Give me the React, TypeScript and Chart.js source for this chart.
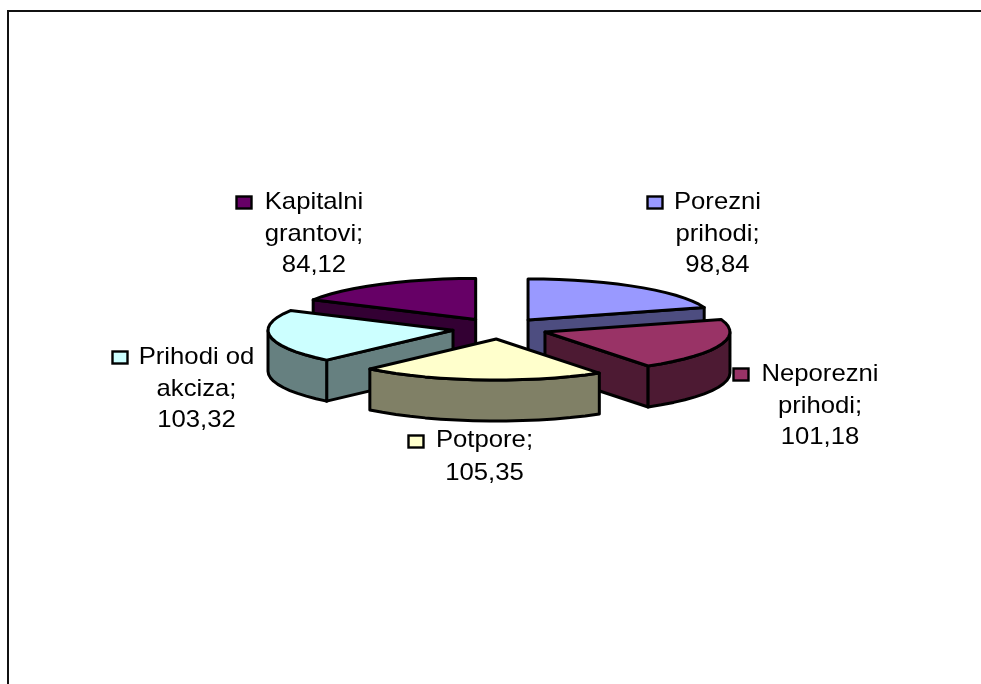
import React, { useEffect, useRef } from "react";
import { Chart, registerables } from "chart.js";

Chart.register(...registerables);

const categories = ["Porezni prihodi", "Neporezni prihodi", "Potpore", "Prihodi od akciza", "Kapitalni grantovi"];
const values = [98.84, 101.18, 105.35, 103.32, 84.12];
const topColors = ["#9999FF", "#993366", "#FFFFCC", "#CCFFFF", "#660066"];
const wallColors = ["#4D4D80", "#4D1A33", "#808066", "#668080", "#330033"];
const labelLines = [
  ["Porezni", "prihodi;"],
  ["Neporezni", "prihodi;"],
  ["Potpore;"],
  ["Prihodi od", "akciza;"],
  ["Kapitalni", "grantovi;"],
];

// Layout of the data labels: text centre, first baseline, line step, key box.
const labelLayout = [
  { cx: 717.5, y: 209, step: 31.5, kx: 647.5, ky: 196.5 },
  { cx: 820, y: 381, step: 31.5, kx: 733.5, ky: 368.5 },
  { cx: 484.5, y: 447, step: 33, kx: 408.5, ky: 435.5 },
  { cx: 196.5, y: 364, step: 31.5, kx: 112.5, ky: 351.5 },
  { cx: 314, y: 209, step: 31.5, kx: 236.5, ky: 196.5 },
];

const RADIUS = 185;
const EXPLODE = 47.6;
const TILT = 41 / 185;
const DEPTH = 41;
const STROKE = 3;
const paintOrder = [4, 0, 3, 1, 2];

const pie3d = {
  id: "pie3d",
  beforeDatasetDraw(chart: any) {
    const { ctx } = chart;
    const arcs = chart.getDatasetMeta(0).data;
    ctx.save();
    ctx.lineJoin = "round";
    ctx.lineWidth = STROKE;
    ctx.strokeStyle = "#000";
    for (const i of paintOrder) {
      const el = arcs[i];
      const s = el.startAngle;
      const e = el.endAngle;
      const mid = (s + e) / 2;
      const off = el.options.offset;
      const ox = el.x + off * Math.cos(mid);
      const oy = el.y + off * Math.sin(mid) * TILT;
      const r = el.outerRadius;
      const pt = (a: number, d = 0): [number, number] => [
        ox + r * Math.cos(a),
        oy + r * Math.sin(a) * TILT + d,
      ];
      const poly = (pts: [number, number][], fill: string) => {
        ctx.beginPath();
        pts.forEach((p, n) => (n ? ctx.lineTo(p[0], p[1]) : ctx.moveTo(p[0], p[1])));
        ctx.closePath();
        ctx.fillStyle = fill;
        ctx.fill();
        ctx.stroke();
      };
      const arcPts = (a0: number, a1: number, d = 0) => {
        const n = Math.max(2, Math.ceil(Math.abs(a1 - a0) / 0.09));
        const out: [number, number][] = [];
        for (let k = 0; k <= n; k++) out.push(pt(a0 + ((a1 - a0) * k) / n, d));
        return out;
      };
      // Radial walls that face the viewer.
      const startFront = Math.cos(s) < -0.001;
      const endFront = Math.cos(e) > 0.001;
      const apex: [number, number] = [ox, oy];
      const apexLow: [number, number] = [ox, oy + DEPTH];
      if (startFront) poly([apex, pt(s), pt(s, DEPTH), apexLow], wallColors[i]);
      if (endFront) poly([apex, pt(e), pt(e, DEPTH), apexLow], wallColors[i]);
      // Outer wall, only where the rim faces the viewer (0..PI on screen).
      const a0 = Math.max(s, 0);
      const a1 = Math.min(e, Math.PI);
      if (a1 > a0) {
        poly([...arcPts(a0, a1), ...arcPts(a1, a0, DEPTH)], wallColors[i]);
      }
      // Top face.
      poly([apex, ...arcPts(s, e)], topColors[i]);
    }
    ctx.restore();
    return false;
  },
  afterDraw(chart: any) {
    const { ctx } = chart;
    ctx.save();
    // Chart frame, cropped on the right and at the bottom.
    ctx.strokeStyle = "#111";
    ctx.lineWidth = 2;
    ctx.beginPath();
    ctx.moveTo(981, 11);
    ctx.lineTo(8, 11);
    ctx.lineTo(8, 684);
    ctx.stroke();
    // Data labels.
    ctx.font = '24px "Liberation Sans", Arial, sans-serif';
    ctx.textAlign = "center";
    ctx.textBaseline = "alphabetic";
    labelLayout.forEach((l, i) => {
      const lines = [...labelLines[i], values[i].toFixed(2).replace(".", ",")];
      lines.forEach((text, n) => {
        ctx.save();
        ctx.translate(l.cx, l.y + n * l.step);
        ctx.scale(1.07, 1);
        ctx.fillStyle = "#000";
        ctx.fillText(text, 0, 0);
        ctx.restore();
      });
      ctx.fillStyle = topColors[i];
      ctx.strokeStyle = "#000";
      ctx.lineWidth = 2.4;
      ctx.fillRect(l.kx, l.ky, 15, 12);
      ctx.strokeRect(l.kx, l.ky, 15, 12);
    });
    ctx.restore();
  },
};

export default function App() {
  const ref = useRef<HTMLCanvasElement>(null);
  useEffect(() => {
    const chart = new Chart(ref.current!, {
      type: "pie",
      data: {
        labels: categories,
        datasets: [
          {
            data: values,
            backgroundColor: topColors,
            borderColor: "#000",
            offset: EXPLODE,
          },
        ],
      },
      options: {
        animation: false,
        responsive: false,
        radius: RADIUS,
        layout: { padding: { left: 19, bottom: 27 } },
        plugins: { legend: { display: false }, tooltip: { enabled: false } },
      } as any,
      plugins: [pie3d],
    });
    return () => chart.destroy();
  }, []);
  return (
    <div style={{ position: "fixed", left: 0, top: 0, width: 981, height: 684, background: "#fff" }}>
      <canvas ref={ref} width={981} height={684} style={{ display: "block", width: 981, height: 684 }} />
    </div>
  );
}
